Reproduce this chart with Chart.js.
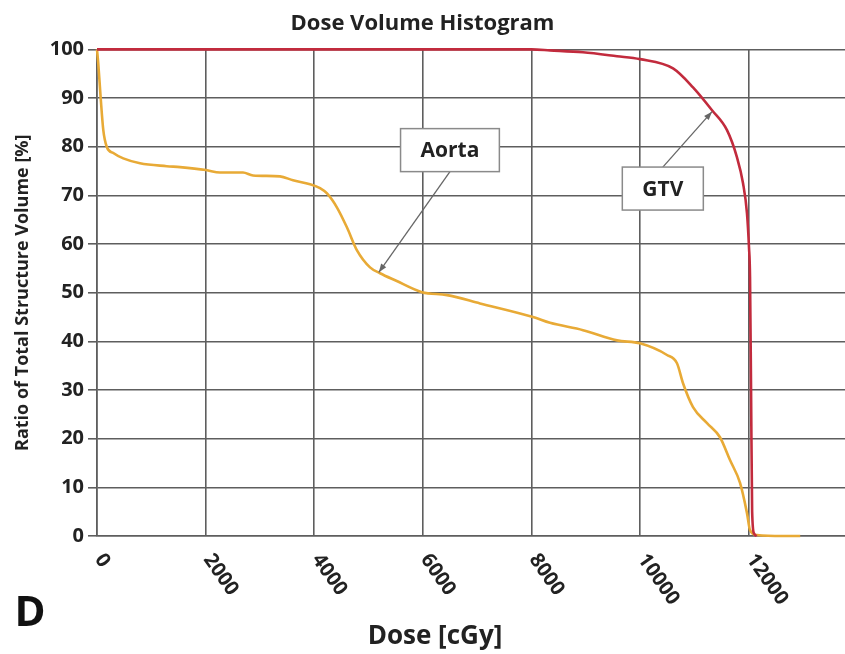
<!DOCTYPE html>
<html>
<head>
<meta charset="utf-8">
<title>Dose Volume Histogram</title>
<script src="https://cdn.jsdelivr.net/npm/chart.js@4.4.1/dist/chart.umd.min.js"></script>
<style>
    html, body { margin: 0; padding: 0; background: #fff; }
    #wrap { width: 845px; height: 654px; }
</style>
</head>
<body>
<div id="wrap"><canvas id="dvh"></canvas></div>
<script>
// Aorta curve (dose in cGy, volume in %)
const aortaDose = [0, 24, 68, 116, 179, 300, 484, 792, 1284, 1529, 2007, 2265, 2689, 2873, 3370, 3610, 3923,
    4107, 4236, 4420, 4604, 4788, 5028, 5212, 5500, 5985, 6446, 7053, 8029, 8343, 8950, 9576, 10000,
    10497, 10681, 10792, 10976, 11234, 11473, 11657, 11842, 11970, 12026, 12155, 12634, 12950];
const aortaVolume = [100, 97, 90, 83.4, 80, 78.7, 77.6, 76.6, 76, 75.8, 75.2, 74.7, 74.7, 74.1, 73.9, 73.1, 72.3,
    71.5, 70.4, 67.5, 63.4, 58.7, 55.2, 54, 52.5, 50.1, 49.5, 47.8, 45, 43.8, 42.3, 40.2, 39.6,
    37.2, 35.5, 31.4, 26.5, 23.2, 20.3, 15.6, 10.9, 4.7, 1.2, 0.2, 0, 0];

// GTV curve
const gtvDose = [0, 8000, 8343, 8950, 9576, 10000, 10608, 10976, 11326, 11602, 11786, 11897, 11970,
    12007, 12026, 12045, 12065, 12100, 12150];
const gtvVolume = [100, 100, 99.8, 99.4, 98.6, 98, 96.1, 92.2, 87.5, 83.4, 77.8, 72.5, 66.3,
    59.3, 53.2, 30, 5, 0.5, 0];

const xTicks = [0, 2000, 4000, 6000, 8000, 10000, 12000];
const yTicks = [0, 10, 20, 30, 40, 50, 60, 70, 80, 90, 100];

// callout boxes: label, box centre and arrow tip, in data units
const callouts = [
    { label: 'Aorta', x: 6500, y: 79.3, tipX: 5190, tipY: 54.2, from: 'bottom' },
    { label: 'GTV', x: 10420, y: 71.4, tipX: 11326, tipY: 87.2, from: 'top' }
];

const FONT = '"Open Sans", "DejaVu Sans", sans-serif';

const toPoints = (xs, ys) => xs.map((v, i) => ({ x: v, y: ys[i] }));

const extrasPlugin = {
    id: 'extras',
    afterDraw(chart) {
        const ctx = chart.ctx;
        const x = chart.scales.x;
        const y = chart.scales.y;
        ctx.save();

        // x tick labels, turned clockwise
        ctx.font = 'bold 20px ' + FONT;
        ctx.fillStyle = '#222';
        ctx.textAlign = 'left';
        ctx.textBaseline = 'middle';
        xTicks.forEach(v => {
            ctx.save();
            ctx.translate(x.getPixelForValue(v) + 2, y.bottom + 20);
            ctx.rotate(55 * Math.PI / 180);
            ctx.fillText(String(v), 0, 0);
            ctx.restore();
        });

        // x axis title
        ctx.font = 'bold 26px ' + FONT;
        ctx.textAlign = 'center';
        ctx.fillText('Dose [cGy]', 435, 637);

        // panel letter
        ctx.font = 'bold 42px ' + FONT;
        ctx.fillStyle = '#111';
        ctx.fillText('D', 30, 614);

        // callouts
        callouts.forEach(c => {
            const cx = x.getPixelForValue(c.x);
            const cy = y.getPixelForValue(c.y);
            ctx.font = 'bold 21px ' + FONT;
            const w = ctx.measureText(c.label).width + 40;
            const h = 43;
            const sx = cx;
            const sy = c.from === 'bottom' ? cy + h / 2 : cy - h / 2;
            const tx = x.getPixelForValue(c.tipX);
            const ty = y.getPixelForValue(c.tipY);

            ctx.strokeStyle = '#666';
            ctx.fillStyle = '#666';
            ctx.lineWidth = 1.3;
            ctx.beginPath();
            ctx.moveTo(sx, sy);
            ctx.lineTo(tx, ty);
            ctx.stroke();
            const a = Math.atan2(ty - sy, tx - sx);
            ctx.beginPath();
            ctx.moveTo(tx, ty);
            ctx.lineTo(tx - 9 * Math.cos(a - 0.35), ty - 9 * Math.sin(a - 0.35));
            ctx.lineTo(tx - 9 * Math.cos(a + 0.35), ty - 9 * Math.sin(a + 0.35));
            ctx.closePath();
            ctx.fill();

            ctx.fillStyle = '#fff';
            ctx.fillRect(cx - w / 2, cy - h / 2, w, h);
            ctx.strokeStyle = '#8a8a8a';
            ctx.lineWidth = 1.5;
            ctx.strokeRect(cx - w / 2, cy - h / 2, w, h);
            ctx.fillStyle = '#222';
            ctx.textAlign = 'center';
            ctx.textBaseline = 'middle';
            ctx.fillText(c.label, cx, cy + 1);
        });

        ctx.restore();
    }
};

const ctx = document.getElementById('dvh').getContext('2d');
const dvhChart = new Chart(ctx, {
    type: 'line',
    data: {
        datasets: [{
            label: 'GTV',
            data: toPoints(gtvDose, gtvVolume),
            borderColor: '#c22b3d',
            borderWidth: 2.6,
            pointRadius: 0,
            cubicInterpolationMode: 'monotone',
            clip: 4
        }, {
            label: 'Aorta',
            data: toPoints(aortaDose, aortaVolume),
            borderColor: '#e8aa36',
            borderWidth: 2.6,
            pointRadius: 0,
            cubicInterpolationMode: 'monotone',
            clip: 4
        }]
    },
    options: {
        responsive: true,
        maintainAspectRatio: false,
        animation: false,
        layout: {
            padding: { top: 10, right: 0, bottom: 0, left: 0 }
        },
        plugins: {
            legend: { display: false },
            tooltip: { enabled: false },
            title: {
                display: true,
                text: 'Dose Volume Histogram',
                color: '#222',
                font: { family: FONT, size: 22, weight: 'bold' },
                padding: { top: 1, bottom: 12 }
            }
        },
        scales: {
            x: {
                type: 'linear',
                min: 0,
                max: 13775,
                afterBuildTicks: axis => {
                    axis.ticks = xTicks.map(v => ({ value: v }));
                },
                afterFit: axis => {
                    axis.height = 118;
                },
                ticks: { display: false },
                grid: { color: '#5e5e5e', lineWidth: 1.6, drawTicks: false },
                border: { color: '#5e5e5e', width: 1.6 }
            },
            y: {
                min: 0,
                max: 100,
                afterBuildTicks: axis => {
                    axis.ticks = yTicks.map(v => ({ value: v }));
                },
                afterFit: axis => {
                    axis.width = 97;
                },
                ticks: {
                    color: '#222',
                    padding: 4,
                    font: { family: FONT, size: 20, weight: 'bold' }
                },
                grid: { color: '#5e5e5e', lineWidth: 1.6, tickLength: 9 },
                border: { color: '#5e5e5e', width: 1.6 },
                title: {
                    display: true,
                    text: 'Ratio of Total Structure Volume [%]',
                    color: '#222',
                    font: { family: FONT, size: 18, weight: 'bold' },
                    padding: { top: 12, bottom: 4 }
                }
            }
        }
    },
    plugins: [extrasPlugin]
});
</script>
</body>
</html>
